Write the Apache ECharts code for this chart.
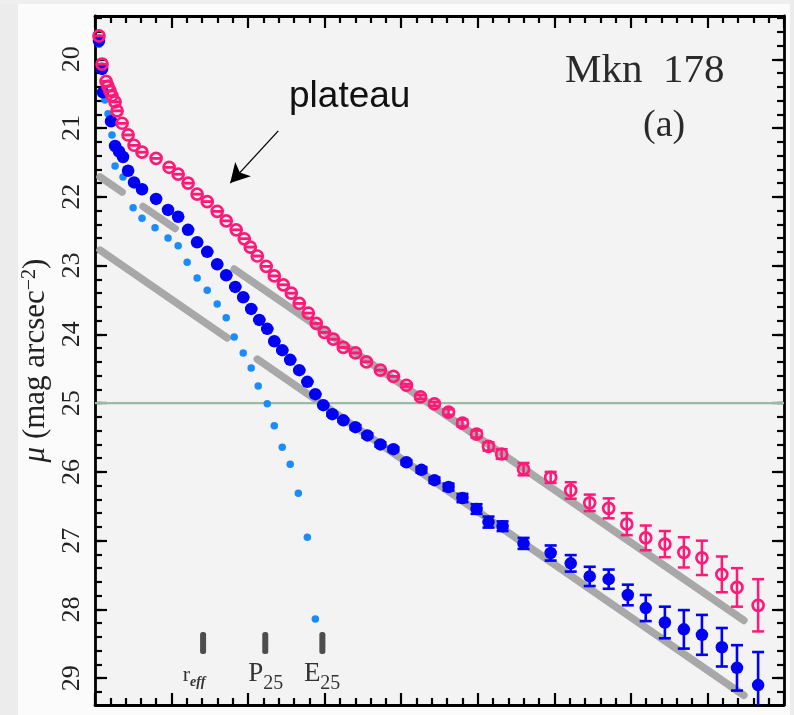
<!DOCTYPE html>
<html>
<head>
<meta charset="utf-8">
<script src="https://cdn.jsdelivr.net/npm/echarts@6/dist/echarts.min.js"></script>
<style>
  html, body { margin: 0; padding: 0; background: #fbfbfb; }
  #chart { width: 794px; height: 715px; }
</style>
</head>
<body>
<div id="chart"></div>
<script>
// Mkn 178 surface-brightness profiles.
// Each row: [radius (arcsec), mu (mag arcsec^-2), error (mag)]

// R band, open circles
const profileR = [
  [0.26, 19.66, 0], [0.46, 20.07, 0], [0.72, 20.32, 0], [0.85, 20.39, 0],
  [0.98, 20.46, 0], [1.11, 20.53, 0], [1.31, 20.62, 0], [1.44, 20.75, 0],
  [1.77, 20.93, 0], [2.16, 21.10, 0], [2.55, 21.25, 0], [3.07, 21.35, 0],
  [3.99, 21.44, 0], [4.84, 21.57, 0], [5.43, 21.67, 0], [6.08, 21.80, 0],
  [6.67, 21.96, 0], [7.33, 22.07, 0], [7.98, 22.21, 0], [8.57, 22.35, 0],
  [9.22, 22.48, 0], [9.75, 22.61, 0], [10.14, 22.73, 0], [10.60, 22.86, 0],
  [11.18, 23.01, 0], [11.71, 23.15, 0], [12.30, 23.28, 0], [12.82, 23.40, 0],
  [13.34, 23.55, 0], [13.93, 23.69, 0], [14.45, 23.84, 0], [14.98, 23.97, 0],
  [15.57, 24.07, 0], [16.22, 24.19, 0], [17.01, 24.27, 0], [17.73, 24.40, 0],
  [18.64, 24.52, 0], [19.49, 24.61, 0], [20.34, 24.74, 0.02], [21.26, 24.91, 0.03],
  [22.17, 25.01, 0.03], [23.09, 25.13, 0.04], [24.00, 25.29, 0.05], [24.92, 25.45, 0.05],
  [25.70, 25.63, 0.06], [26.56, 25.74, 0.07], [27.99, 25.96, 0.09], [29.76, 26.08, 0.08],
  [31.07, 26.27, 0.12], [32.31, 26.45, 0.12], [33.55, 26.53, 0.145], [34.73, 26.76, 0.16],
  [35.97, 26.96, 0.18], [37.22, 27.05, 0.19], [38.46, 27.17, 0.22], [39.64, 27.25, 0.25],
  [40.94, 27.49, 0.26], [41.93, 27.68, 0.28], [43.31, 27.94, 0.38]
];

// B band, filled circles
const profileB = [
  [0.26, 19.73, 0], [0.46, 20.14, 0], [0.52, 20.48, 0], [1.05, 20.90, 0],
  [1.31, 21.26, 0], [1.57, 21.34, 0], [1.83, 21.42, 0], [2.16, 21.62, 0],
  [2.55, 21.79, 0], [3.07, 21.89, 0], [3.99, 22.03, 0], [4.77, 22.19, 0],
  [5.43, 22.29, 0], [6.08, 22.48, 0], [6.67, 22.66, 0], [7.33, 22.80, 0],
  [7.98, 22.98, 0], [8.57, 23.14, 0], [9.16, 23.31, 0], [9.68, 23.46, 0],
  [10.20, 23.63, 0], [10.73, 23.79, 0], [11.25, 23.92, 0], [11.71, 24.10, 0],
  [12.23, 24.23, 0], [12.75, 24.37, 0], [13.34, 24.52, 0], [13.87, 24.69, 0],
  [14.39, 24.87, 0], [14.91, 25.03, 0], [15.50, 25.16, 0.02], [16.22, 25.25, 0.02],
  [17.01, 25.35, 0.03], [17.79, 25.47, 0.03], [18.64, 25.60, 0.03], [19.49, 25.67, 0.03],
  [20.34, 25.86, 0.03], [21.32, 25.97, 0.04], [22.17, 26.12, 0.04], [23.09, 26.22, 0.05],
  [24.00, 26.38, 0.06], [24.92, 26.54, 0.07], [25.70, 26.73, 0.08], [26.62, 26.79, 0.07],
  [27.99, 27.04, 0.08], [29.76, 27.18, 0.11], [31.07, 27.33, 0.12], [32.31, 27.52, 0.14],
  [33.55, 27.56, 0.14], [34.80, 27.79, 0.15], [35.97, 27.98, 0.19], [37.22, 28.19, 0.23],
  [38.46, 28.29, 0.28], [39.64, 28.37, 0.29], [40.94, 28.55, 0.28], [41.93, 28.85, 0.33],
  [43.31, 29.10, 0.48]
];

// B-band bulge model, small dots: [radius, mu]
const bulgeB = [
  [0.26, 19.78], [0.46, 20.10], [0.65, 20.59], [0.85, 20.79], [1.11, 21.10],
  [1.31, 21.55], [1.83, 21.71], [2.49, 22.16], [3.07, 22.31], [3.92, 22.45],
  [4.77, 22.60], [5.43, 22.71], [6.02, 22.95], [6.67, 23.18], [7.33, 23.36],
  [7.98, 23.56], [8.57, 23.76], [9.09, 24.04], [9.68, 24.27], [10.20, 24.49],
  [10.66, 24.75], [11.25, 25.01], [11.71, 25.33], [12.23, 25.64], [12.75, 25.89],
  [13.28, 26.31], [13.87, 26.95], [14.39, 28.14]
];

// Exponential disk fits, drawn as visible pieces: [[r0, mu0], [r1, mu1]]
const diskFitR = [
  [[0.33, 21.71], [1.77, 21.93]],
  [[3.14, 22.14], [5.23, 22.46]],
  [[9.09, 23.05], [42.38, 28.16]]
];
const diskFitB = [
  [[0.33, 22.775], [8.63, 24.05]],
  [[10.60, 24.36], [42.38, 29.25]]
];

// Reference isophote level
const isophoteLevel = 25;

// Characteristic radii marked along the bottom
const markRadii = [7.06, 11.12, 14.85];
const markMain = ['r', 'P', 'E'];
const markSub = ['eff', '25', '25'];

// Axis ticks
const rTickStep = 5;
const muMajorTicks = [20, 21, 22, 23, 24, 25, 26, 27, 28, 29];
const muMinorTicks = [];
for (let k = 97; k < 147; k++) muMinorTicks.push(+(k * 0.2).toFixed(1));

// Annotation arrow: from label towards the plateau
const plateauArrow = [[11.97, 21.04], [8.83, 21.80]];

const R_MIN = 0, R_MAX = 45;
const MU_MIN = 19.37, MU_MAX = 29.39;

const PINK = '#ff1a78';
const BLUE = '#0000f5';
const LIGHTBLUE = '#1a8cff';
const SERIF = '"Liberation Serif", "DejaVu Serif", serif';

function xAxisOf(position) {
  return {
    type: 'value', position: position, min: R_MIN, max: R_MAX, interval: rTickStep,
    axisLine: { show: true, onZero: false, lineStyle: { color: '#000', width: 2.8 } },
    axisTick: { show: true, inside: true, length: 12, lineStyle: { color: '#000', width: 2.2 } },
    minorTick: { show: true, splitNumber: 5, length: 7, lineStyle: { color: '#000', width: 2.2 } },
    axisLabel: { show: false },
    splitLine: { show: false }
  };
}

function yAxisOf(position, ticks, len, major, labelled) {
  const ax = {
    type: 'value', position: position, inverse: true, min: MU_MIN, max: MU_MAX,
    axisLine: { show: major, onZero: false, lineStyle: { color: '#000', width: 2.8 } },
    axisTick: { show: true, inside: true, length: len, customValues: ticks,
                lineStyle: { color: '#000', width: 2.2 } },
    axisLabel: { show: labelled },
    splitLine: { show: false }
  };
  if (labelled) {
    ax.axisLabel = {
      show: true, rotate: 90, margin: 10, customValues: muMajorTicks,
      fontFamily: SERIF, fontSize: 26, color: '#222'
    };
    ax.name = '{i|μ} (mag arcsec{s|−2})';
    ax.nameLocation = 'middle';
    ax.nameRotate = 90;
    ax.nameGap = 41;
    ax.nameTextStyle = {
      fontFamily: SERIF, fontSize: 31, color: '#222',
      rich: {
        i: { fontFamily: SERIF, fontStyle: 'italic', fontSize: 31, color: '#222' },
        s: { fontFamily: SERIF, fontSize: 20, color: '#222', verticalAlign: 'top' }
      }
    };
  }
  return ax;
}

function errorBars(color, width, capHalf) {
  return function (params, api) {
    const r = api.value(0), mu = api.value(1), e = api.value(2);
    const a = api.coord([r, mu - e]);
    const b = api.coord([r, mu + e]);
    const st = { stroke: color, lineWidth: width, fill: null };
    return {
      type: 'group',
      children: [
        { type: 'line', shape: { x1: a[0], y1: a[1], x2: b[0], y2: b[1] }, style: st },
        { type: 'line', shape: { x1: a[0] - capHalf, y1: a[1], x2: a[0] + capHalf, y2: a[1] }, style: st },
        { type: 'line', shape: { x1: b[0] - capHalf, y1: b[1], x2: b[0] + capHalf, y2: b[1] }, style: st }
      ]
    };
  };
}

// label layout for the radius marks (pixel offsets from the mark)
const markLabelStyle = [
  { mainSize: 22, subSize: 14, subFont: 'italic bold', mainDx: -13, subDx: -13, subDrop: 5 },
  { mainSize: 27, subSize: 20, subFont: '', mainDx: -2, subDx: -2, subDrop: 8 },
  { mainSize: 27, subSize: 20, subFont: '', mainDx: -2, subDx: -2, subDrop: 8 }
];
const MARK_TOP = 28.33, MARK_BOTTOM = 28.65, MARK_LABEL_MU = 29.05;

function renderMark(params, api) {
  const i = params.dataIndex;
  const r = api.value(0);
  const top = api.coord([r, MARK_TOP]);
  const bot = api.coord([r, MARK_BOTTOM]);
  const base = api.coord([r, MARK_LABEL_MU]);
  const ls = markLabelStyle[i];
  return {
    type: 'group',
    children: [
      { type: 'rect', shape: { x: top[0] - 3, y: top[1], width: 6, height: bot[1] - top[1], r: 2.5 },
        style: { fill: '#4d4d4d' } },
      { type: 'text', style: { x: base[0] + ls.mainDx, y: base[1] + ls.mainSize * 0.22,
          text: markMain[i], align: 'right', verticalAlign: 'bottom',
          font: ls.mainSize + 'px ' + SERIF, fill: '#333' } },
      { type: 'text', style: { x: base[0] + ls.subDx, y: base[1] + ls.subDrop + ls.subSize * 0.22,
          text: markSub[i], align: 'left', verticalAlign: 'bottom',
          font: (ls.subFont ? ls.subFont + ' ' : '') + ls.subSize + 'px ' + SERIF, fill: '#333' } }
    ]
  };
}

const series = [];
diskFitR.concat(diskFitB).forEach(function (seg) {
  series.push({
    type: 'line', data: seg, showSymbol: false, silent: true, z: 1,
    lineStyle: { color: '#a8a8a8', width: 7.5, cap: 'round' }
  });
});
series.push({
  type: 'line', silent: true, z: 2, showSymbol: false,
  data: [[R_MIN, isophoteLevel], [R_MAX, isophoteLevel]],
  lineStyle: { color: '#9bbaa6', width: 2.2 },
  markLine: {
    silent: true, symbol: ['none', 'arrow'], symbolSize: [16, 19],
    label: { show: false },
    lineStyle: { color: '#000', width: 1.3, type: 'solid' },
    data: [[{ coord: plateauArrow[0] }, { coord: plateauArrow[1] }]]
  }
});
series.push({
  type: 'custom', z: 3, silent: true, renderItem: renderMark,
  data: markRadii.map(function (r) { return [r]; }), encode: { x: 0 }
});
series.push({
  type: 'scatter', z: 4, silent: true, symbol: 'circle', symbolSize: 7.5,
  data: bulgeB, itemStyle: { color: LIGHTBLUE, opacity: 1 }
});
series.push({
  type: 'custom', z: 5, silent: true, clip: true, renderItem: errorBars(BLUE, 2.6, 6),
  data: profileB, encode: { x: 0, y: 1 }
});
series.push({
  type: 'scatter', z: 6, silent: true, symbol: 'circle', symbolSize: 12.5,
  data: profileB.map(function (d) { return [d[0], d[1]]; }),
  itemStyle: { color: BLUE, opacity: 1 }
});
series.push({
  type: 'custom', z: 7, silent: true, clip: true, renderItem: errorBars(PINK, 2.5, 6),
  data: profileR, encode: { x: 0, y: 1 }
});
series.push({
  type: 'scatter', z: 8, silent: true, symbol: 'circle', symbolSize: 11,
  data: profileR.map(function (d) { return [d[0], d[1]]; }),
  itemStyle: { color: 'rgba(0,0,0,0)', borderColor: PINK, borderWidth: 2.7, opacity: 1 }
});

const chart = echarts.init(document.getElementById('chart'), null, { renderer: 'canvas' });
chart.setOption({
  animation: false,
  backgroundColor: '#fbfbfb',
  grid: { left: 95, right: 10, top: 16, bottom: 10, show: true, backgroundColor: '#f3f3f3', borderWidth: 0 },
  xAxis: [xAxisOf('bottom'), xAxisOf('top')],
  yAxis: [
    yAxisOf('left', muMajorTicks, 12, true, true),
    yAxisOf('left', muMinorTicks, 7, false, false),
    yAxisOf('right', muMajorTicks, 12, true, false),
    yAxisOf('right', muMinorTicks, 7, false, false)
  ],
  graphic: [
    { type: 'rect', left: 0, top: 0, shape: { width: 18, height: 715 }, style: { fill: '#ececec' }, z: -1, silent: true },
    { type: 'rect', left: 0, top: 0, shape: { width: 794, height: 4 }, style: { fill: '#efefef' }, z: -1, silent: true },
    { type: 'rect', right: 0, top: 0, shape: { width: 4, height: 715 }, style: { fill: '#ececec' }, z: -1, silent: true },
    { type: 'text', left: 289, top: 78, z: 10, silent: true,
      style: { text: 'plateau', font: '37px "Liberation Sans", Arial, sans-serif', fill: '#111' } },
    { type: 'text', left: 565, top: 51, z: 10, silent: true,
      style: { text: 'Mkn  178', font: '41px ' + SERIF, fill: '#2a2a2a' } },
    { type: 'text', left: 643, top: 107, z: 10, silent: true,
      style: { text: '(a)', font: '38px ' + SERIF, fill: '#2a2a2a' } }
  ],
  series: series
});
</script>
</body>
</html>
